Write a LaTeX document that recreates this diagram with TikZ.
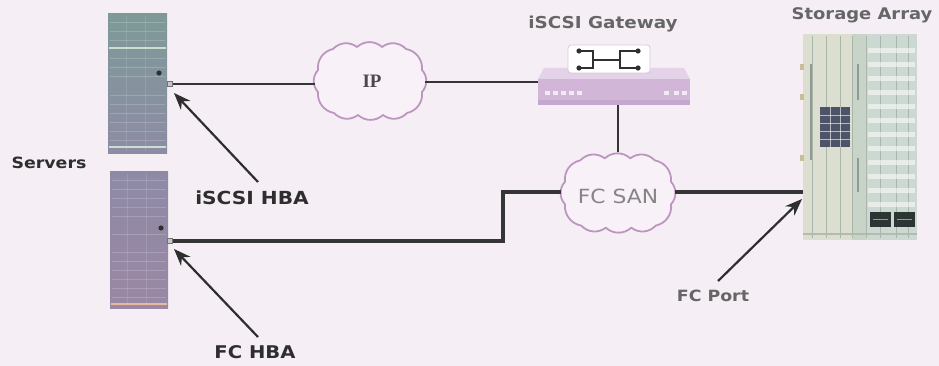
\documentclass[tikz,border=0pt]{standalone}
\usepackage{fontspec}
\newfontfamily\lbl[FakeStretch=1.12]{DejaVu Sans}
\newfontfamily\ipfont{Liberation Serif}
\usetikzlibrary{arrows.meta}
\definecolor{bg}{HTML}{F5EFF5}
\definecolor{cloudline}{HTML}{BC96BE}
\definecolor{cloudfill}{HTML}{F8F1F8}
\definecolor{wirec}{HTML}{353535}
\definecolor{darktxt}{HTML}{2E2E2E}
\definecolor{graytxt}{HTML}{666666}
\definecolor{srvAtop}{HTML}{7E9A98}
\definecolor{srvAbot}{HTML}{8D8CA4}
\definecolor{srvBtop}{HTML}{8E8AA6}
\definecolor{srvBbot}{HTML}{9A88A4}
\definecolor{stripeG}{HTML}{C8E0D0}
\definecolor{stripeO}{HTML}{E8B8A0}
\definecolor{ledc}{HTML}{2A3030}
\definecolor{iptxt}{HTML}{4A4A4A}
\definecolor{santxt}{HTML}{858585}
\definecolor{gwtop}{HTML}{E4D2E8}
\definecolor{gwfront}{HTML}{D2B6D8}
\definecolor{gwbase}{HTML}{C6A8CE}
\definecolor{swedge}{HTML}{D8C8DC}
\definecolor{swicon}{HTML}{303030}
\definecolor{arrbody}{HTML}{C9D4C8}
\definecolor{arrleft}{HTML}{DCDFD0}
\definecolor{arrright}{HTML}{CCD8D2}
\definecolor{arrline}{HTML}{A8B6AC}
\definecolor{arrbar}{HTML}{8E9A92}
\definecolor{arrgrid}{HTML}{4E5468}
\definecolor{arrdrive}{HTML}{2C3434}
\definecolor{arrfoot}{HTML}{B0BCB0}
\definecolor{arrtab}{HTML}{C9BE98}
\tikzset{
  cloudedge/.style={draw=cloudline, line width=1.8pt, fill=cloudfill, line join=round},
  cloudarea/.style={rectangle, minimum width=#1, minimum height=72pt, inner sep=0pt},
  wire/.style={draw=wirec, line width=2pt},
  thickwire/.style={draw=wirec, line width=3.3pt},
  pointer/.style={draw=darktxt, line width=2.2pt, -{Stealth[length=17pt,width=13pt]}},
  boldlabel/.style={text=darktxt, font=\lbl\bfseries\fontsize{#1}{#1}\selectfont, inner sep=0pt},
  graylabel/.style={text=graytxt, font=\lbl\bfseries\fontsize{#1}{#1}\selectfont, inner sep=0pt},
  port/.style={draw=black!55, fill=black!22, minimum size=5pt, inner sep=0pt},
}
% puffy outline of a network cloud, centred on the current origin
\newcommand\cloudoutline{%
  \draw[cloudedge] (-52,11) to[bend left=42] (-52,-11) to[bend left=42] (-37,-32)
    to[bend left=42] (-13,-34) to[bend left=42] (12,-34) to[bend left=42] (36,-32)
    to[bend left=42] (52,-11) to[bend left=42] (52,11) to[bend left=42] (37,32)
    to[bend left=42] (13,34) to[bend left=42] (-12,34) to[bend left=42] (-36,32)
    to[bend left=42] cycle;}
\begin{document}
\begin{tikzpicture}[x=1pt,y=-1pt]
  \useasboundingbox (0,0) rectangle (939,366);
  \fill[bg] (0,0) rectangle (939,366);

  % ---------- servers ----------
  \node[anchor=north west, minimum width=59pt, minimum height=140pt, inner sep=0pt,
        top color=srvAtop, bottom color=srvAbot] (srvA) at (108,13) {};
  \node[anchor=north west, minimum width=58pt, minimum height=137pt, inner sep=0pt,
        top color=srvBtop, bottom color=srvBbot] (srvB) at (110,171) {};
  \foreach \yy in {22,31,40,58,67,76,95,104,113,122,131,140}
    \draw[white, opacity=0.18, line width=0.8pt] (110,\yy) -- (165,\yy);
  \foreach \yy in {180,189,198,207,216,234,252,261,270,279,288,297}
    \draw[white, opacity=0.18, line width=0.8pt] (112,\yy) -- (166,\yy);
  \foreach \xx in {126,145}
    \draw[white, opacity=0.12, line width=0.8pt] (\xx,16) -- (\xx,150) (\xx+1,174) -- (\xx+1,305);
  \draw[stripeG, line width=1.6pt] (109,48) -- (166,48);
  \draw[stripeG, line width=1.6pt] (109,147) -- (166,147);
  \draw[stripeO, line width=1.6pt] (111,304) -- (167,304);
  \fill[ledc] (159,73) circle (2.6pt);
  \fill[ledc] (161,228) circle (2.6pt);
  \node[port] (p1) at (170,84) {};
  \node[port] (p2) at (170,241) {};

  % ---------- clouds ----------
  \begin{scope}[shift={(370,81)}] \cloudoutline \end{scope}
  \node[cloudarea=110pt] (ip) at (370,81) {};
  \node[text=iptxt, font=\ipfont\bfseries\fontsize{19}{19}\selectfont] at (372,81) {IP};
  \begin{scope}[shift={(618,193)}, xscale=1.02, yscale=1.02] \cloudoutline \end{scope}
  \node[cloudarea=114pt] (san) at (618,193) {};
  \node[text=santxt, font=\lbl\fontsize{19.5}{20}\selectfont] at (618,196) {FC SAN};

  % ---------- iSCSI gateway ----------
  \node[anchor=north west, minimum width=152pt, minimum height=37pt, inner sep=0pt] (gw) at (538,68) {};
  \fill[gwtop] (544,68) -- (684,68) -- (690,79) -- (538,79) -- cycle;
  \fill[gwfront] (538,79) rectangle (690,104);
  \fill[gwbase] (538,100) rectangle (690,105);
  \foreach \xx in {545,553,561,569,577}
    \fill[white, opacity=0.7] (\xx,91) rectangle ++(5,4);
  \foreach \xx in {664,674,682}
    \fill[white, opacity=0.7] (\xx,91) rectangle ++(5,4);
  \node[draw=swedge, fill=white, rounded corners=3pt, line width=0.8pt,
        minimum width=82pt, minimum height=28pt, inner sep=0pt] (sw) at (609,59) {};
  \draw[swicon, line width=1.4pt]
    (579,51) -- (593,51) -- (593,68) -- (579,68)
    (593,60) -- (620,60)
    (638,51) -- (620,51) -- (620,68) -- (638,68);
  \foreach \pt in {(579,51),(579,68),(638,51),(638,68)}
    \fill[swicon] \pt circle (2.6pt);

  % ---------- storage array ----------
  \node[anchor=north west, minimum width=114pt, minimum height=206pt, inner sep=0pt,
        fill=arrbody] (arr) at (803,34) {};
  \fill[arrleft] (803,34) rectangle (852,240);
  \fill[arrright] (866,34) rectangle (917,240);
  \foreach \xx in {812,826,840,852,866,880,896,908}
    \draw[arrline, line width=0.7pt] (\xx,36) -- (\xx,238);
  \foreach \yy in {48,62,76,90,104,118,132,146,160,174,188,202}
    \fill[white, opacity=0.55] (868,\yy) rectangle (915,\yy+5);
  \draw[arrbar, line width=1.6pt] (811,64) -- (811,160);
  \draw[arrbar, line width=1.6pt] (858,64) -- (858,100) (858,158) -- (858,192);
  \fill[arrgrid] (820,107) rectangle (850,147);
  \foreach \yy in {115,123,131,139}
    \draw[white, opacity=0.6, line width=0.7pt] (820,\yy) -- (850,\yy);
  \foreach \xx in {830,840}
    \draw[white, opacity=0.6, line width=0.7pt] (\xx,107) -- (\xx,147);
  \fill[arrdrive] (870,212) rectangle (891,227);
  \fill[arrdrive] (894,212) rectangle (915,227);
  \draw[white, opacity=0.5, line width=0.7pt] (873,219) -- (888,219) (897,219) -- (912,219);
  \draw[arrfoot, line width=1.5pt] (803,234) -- (917,234);
  \foreach \yy in {67,97,158}
    \fill[arrtab] (800,\yy-3) rectangle (804,\yy+3);

  % ---------- connections ----------
  \draw[wire] (p1.east) -- (p1.east -| ip.west);
  \draw[wire] (ip.east |- 0,82) -- (gw.west |- 0,82);
  \draw[wire] (san.north |- gw.south) -- ([yshift=4.5pt]san.north);
  \draw[thickwire] (san.east |- 0,192) -- (arr.west |- 0,192);
  \draw[thickwire] (san.west |- 0,192) -- (503,192) |- (p2.east);

  % ---------- labels ----------
  \node[boldlabel=15.5] (lblsrv) at (49,163) {Servers};
  \node[boldlabel=18] (lbliscsi) at (252,198) {iSCSI HBA};
  \node[boldlabel=17.5] (lblfc) at (255,352) {FC HBA};
  \node[graylabel=16.4] (lblgw) at (603,24) {iSCSI Gateway};
  \node[graylabel=16] (lblarr) at (862,15) {Storage Array};
  \node[graylabel=15.5] (lblport) at (713,296) {FC Port};

  % ---------- pointers ----------
  \coordinate (tipA) at (174,93);
  \coordinate (tipB) at (174,249);
  \coordinate (tipC) at (802,199);
  \draw[pointer] (258,182) -- (tipA);
  \draw[pointer] (258,337) -- (tipB);
  \draw[pointer] (718,281) -- (tipC);
\end{tikzpicture}
\end{document}
